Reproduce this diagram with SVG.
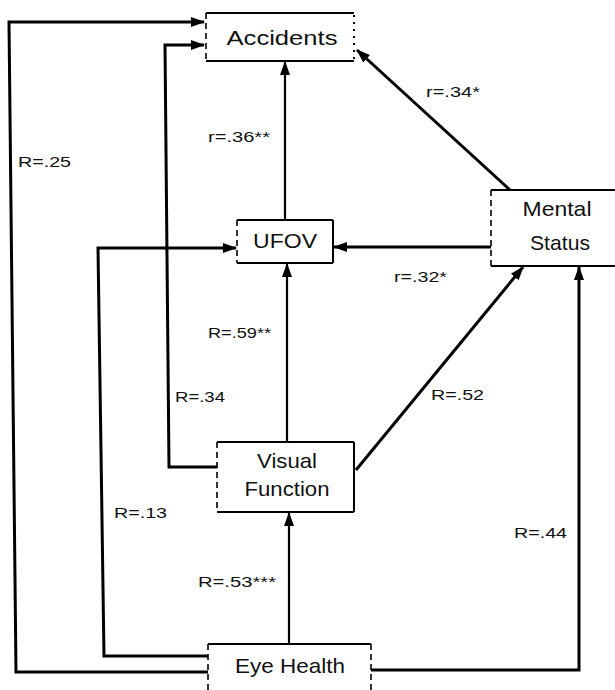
<svg xmlns="http://www.w3.org/2000/svg" width="615" height="690" viewBox="0 0 615 690">
<style>
.bg{fill:#fff}
.edge{stroke:#000;stroke-width:2;fill:none}
.dash{stroke:#000;stroke-width:1.6;fill:none;stroke-dasharray:6 4}
.dot{stroke:#000;stroke-width:2;fill:none;stroke-dasharray:2 5}
.conn{stroke:#000;stroke-width:3;fill:none;stroke-linejoin:miter}
.thin{stroke:#000;stroke-width:2.2;fill:none}
.node{font-family:"Liberation Sans",Arial,sans-serif;font-size:21px;fill:#111;text-anchor:middle}
.lbl{font-family:"Liberation Sans",Arial,sans-serif;font-size:15px;fill:#111}
</style>
<defs>
<marker id="ah" markerUnits="userSpaceOnUse" markerWidth="14" markerHeight="12" viewBox="0 0 14 12" refX="13" refY="6" orient="auto">
<path d="M0,1 L14,6 L0,11 Z" fill="#000"/>
</marker>
</defs>
<rect class="bg" x="0" y="0" width="615" height="690"/>

<g id="connectors">
<path class="conn" d="M208,672 L16,672 L9,22 L204,22" marker-end="url(#ah)"/>
<path class="conn" d="M217,467 L169,467 L165,45 L204,45" marker-end="url(#ah)"/>
<path class="conn" d="M208,656 L104,656 L98,248 L236,248" marker-end="url(#ah)"/>
<path class="thin" d="M285,220 L285,62" marker-end="url(#ah)"/>
<path class="conn" d="M510,190 L357,50" marker-end="url(#ah)"/>
<path class="conn" d="M491,247 L334,247" marker-end="url(#ah)"/>
<path class="thin" d="M287,441 L287,264" marker-end="url(#ah)"/>
<path class="conn" d="M356,470 L523,267" marker-end="url(#ah)"/>
<path class="thin" d="M289,644 L289,513" marker-end="url(#ah)"/>
<path class="conn" d="M371,670 L579,670 L579,267" marker-end="url(#ah)"/>
</g>

<g id="accidents">
<rect class="bg" x="206" y="13" width="148" height="48"/>
<line class="edge" x1="206" y1="13" x2="354" y2="13"/>
<line class="edge" x1="206" y1="61" x2="354" y2="61"/>
<line class="dash" x1="206" y1="13" x2="206" y2="61"/>
<line class="dot" x1="354" y1="15" x2="354" y2="60"/>
<text class="node" x="282" y="45" textLength="111" lengthAdjust="spacingAndGlyphs">Accidents</text>
</g>

<g id="ufov">
<rect class="bg" x="237" y="220" width="96" height="43"/>
<line class="edge" x1="237" y1="220" x2="333" y2="220"/>
<line class="edge" x1="237" y1="263" x2="333" y2="263"/>
<line class="edge" x1="333" y1="220" x2="333" y2="263"/>
<line class="dash" x1="237" y1="220" x2="237" y2="263"/>
<text class="node" x="285" y="248" textLength="64" lengthAdjust="spacingAndGlyphs">UFOV</text>
</g>

<g id="mental-status">
<rect class="bg" x="491" y="190" width="124" height="76"/>
<line class="edge" x1="491" y1="190" x2="615" y2="190"/>
<line class="edge" x1="491" y1="266" x2="615" y2="266"/>
<line class="dash" x1="491" y1="190" x2="491" y2="266"/>
<text class="node" x="557" y="216" textLength="69" lengthAdjust="spacingAndGlyphs">Mental</text>
<text class="node" x="560" y="250" textLength="60" lengthAdjust="spacingAndGlyphs">Status</text>
</g>

<g id="visual-function">
<rect class="bg" x="217" y="442" width="137" height="70"/>
<line class="edge" x1="217" y1="442" x2="354" y2="442"/>
<line class="edge" x1="217" y1="512" x2="354" y2="512"/>
<line class="edge" x1="354" y1="442" x2="354" y2="512"/>
<line class="dash" x1="217" y1="442" x2="217" y2="512"/>
<text class="node" x="287" y="468" textLength="60" lengthAdjust="spacingAndGlyphs">Visual</text>
<text class="node" x="287" y="496" textLength="85" lengthAdjust="spacingAndGlyphs">Function</text>
</g>

<g id="eye-health">
<rect class="bg" x="208" y="644" width="163" height="46"/>
<line class="edge" x1="208" y1="644" x2="371" y2="644"/>
<line class="dash" x1="208" y1="644" x2="208" y2="690"/>
<line class="dash" x1="371" y1="644" x2="371" y2="690"/>
<text class="node" x="290" y="673" textLength="110" lengthAdjust="spacingAndGlyphs">Eye Health</text>
</g>

<g id="labels">
<text class="lbl" x="426" y="97" textLength="54" lengthAdjust="spacingAndGlyphs">r=.34*</text>
<text class="lbl" x="208" y="142" textLength="62" lengthAdjust="spacingAndGlyphs">r=.36**</text>
<text class="lbl" x="18" y="167" textLength="53" lengthAdjust="spacingAndGlyphs">R=.25</text>
<text class="lbl" x="394" y="282" textLength="53" lengthAdjust="spacingAndGlyphs">r=.32*</text>
<text class="lbl" x="208" y="338" textLength="63" lengthAdjust="spacingAndGlyphs">R=.59**</text>
<text class="lbl" x="175" y="402" textLength="50" lengthAdjust="spacingAndGlyphs">R=.34</text>
<text class="lbl" x="431" y="400" textLength="53" lengthAdjust="spacingAndGlyphs">R=.52</text>
<text class="lbl" x="114" y="518" textLength="53" lengthAdjust="spacingAndGlyphs">R=.13</text>
<text class="lbl" x="514" y="538" textLength="53" lengthAdjust="spacingAndGlyphs">R=.44</text>
<text class="lbl" x="198" y="587" textLength="78" lengthAdjust="spacingAndGlyphs">R=.53***</text>
</g>
</svg>
